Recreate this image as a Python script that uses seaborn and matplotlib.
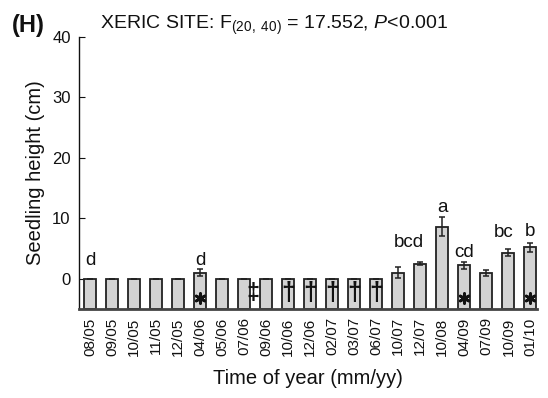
import matplotlib
matplotlib.use("Agg")
import matplotlib.pyplot as plt
import seaborn as sns
import pandas as pd

# Sampling dates (mm/yy)
dates = ['08/05', '09/05', '10/05', '11/05', '12/05', '04/06', '05/06', '07/06',
         '09/06', '10/06', '12/06', '02/07', '03/07', '06/07', '10/07', '12/07',
         '10/08', '04/09', '07/09', '10/09', '01/10']
# Mean seedling height (cm) and standard error
heights = [0, 0, 0, 0, 0, 1.0, 0, 0, 0, 0, 0, 0, 0, 0, 1.0, 2.5, 8.6, 2.2, 1.0, 4.3, 5.2]
errors = [0, 0, 0, 0, 0, 0.6, 0, 0, 0, 0, 0, 0, 0, 0, 0.9, 0.2, 1.6, 0.6, 0.5, 0.6, 0.7]

# Post-hoc group letters: (x position, baseline height, letter)
letter_x = [0, 5, 14.5, 16, 17, 18.8, 20]
letter_y = [2.3, 2.3, 5.3, 11.1, 3.6, 6.9, 7.1]
letter_txt = ['d', 'd', 'bcd', 'a', 'cd', 'bc', 'b']

# Symbols inside bars
star_x = [5, 17, 20]
dagger_x = [9, 10, 11, 12, 13]
ddagger_x = [7.4]

BASE = -5
INK = '#111111'

sns.set_style("ticks")
plt.rcParams['font.family'] = ['Liberation Sans', 'DejaVu Sans']
plt.rcParams['mathtext.fontset'] = 'custom'
plt.rcParams['mathtext.rm'] = 'Liberation Sans'
plt.rcParams['mathtext.it'] = 'Liberation Sans:italic'
plt.rcParams['text.color'] = INK
plt.rcParams['axes.labelcolor'] = INK
plt.rcParams['xtick.color'] = INK
plt.rcParams['ytick.color'] = INK

fig = plt.figure(figsize=(5.48, 3.98), dpi=100)
ax = fig.add_axes([79 / 548, 1 - 309 / 398, (537 - 79) / 548, (309 - 37) / 398])

df = pd.DataFrame({'date': dates, 'height': heights})
sns.barplot(data=df, x='date', y='height', ax=ax, color='#d3d3d3',
            edgecolor='#222222', linewidth=1.3, width=0.55, saturation=1,
            errorbar=None)

# Bars rise from the bottom of the axis
for patch, h in zip(ax.patches, heights):
    patch.set_y(BASE)
    patch.set_height(h - BASE)

ax.errorbar(range(len(dates)), heights, yerr=errors, fmt='none',
            ecolor='#222222', elinewidth=1.1, capsize=2.2, capthick=1.1, zorder=5)

for x, y, t in zip(letter_x, letter_y, letter_txt):
    ax.text(x, y, t, ha='center', va='baseline', fontsize=13.5, color=INK)

ax.scatter(star_x, [-3.2] * len(star_x), marker=(6, 2, 0), s=50,
           color=INK, linewidths=2.0, zorder=6)
for x in dagger_x:
    ax.text(x, -2.4, '\u2020', ha='center', va='center', fontsize=18,
            fontweight='bold', color=INK, zorder=6)
for x in ddagger_x:
    ax.text(x, -2.5, '\u2021', ha='center', va='center', fontsize=17,
            fontweight='bold', color=INK, zorder=6)

ax.set_ylim(BASE, 40)
ax.set_xlim(-0.5, 20.3)
ax.set_yticks([0, 10, 20, 30, 40])
ax.tick_params(axis='y', direction='in', length=4, labelsize=12, pad=6)
ax.tick_params(axis='x', direction='in', length=3, labelsize=11, rotation=90, pad=6)
ax.set_xlabel('Time of year (mm/yy)', fontsize=14.5, labelpad=10)
ax.set_ylabel('Seedling height (cm)', fontsize=14.5, labelpad=5)

sns.despine(ax=ax)
ax.spines['left'].set_color(INK)
ax.spines['left'].set_linewidth(1.0)
ax.spines['bottom'].set_color('#444444')
ax.spines['bottom'].set_linewidth(2.0)

fig.text(100 / 548, 1 - 29 / 398,
         r'XERIC SITE: F$_{(20,\ 40)}$ = 17.552, $\mathit{P}$<0.001',
         ha='left', va='baseline', fontsize=14)
fig.text(12 / 548, 1 - 32 / 398, '(H)', ha='left', va='baseline',
         fontsize=17, fontweight='bold')

fig.savefig('out.png', dpi=100)
